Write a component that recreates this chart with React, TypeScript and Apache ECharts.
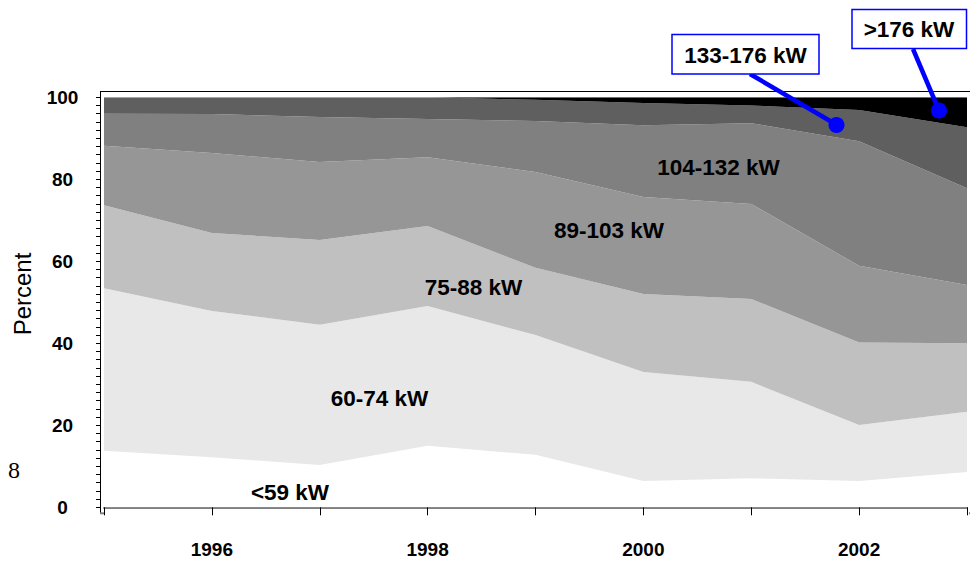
import React, { useEffect, useRef } from "react";
import * as echarts from "echarts";

const years = ["1995", "1996", "1997", "1998", "1999", "2000", "2001", "2002", "2003"];
const bandNames = ["<59 kW", "60-74 kW", "75-88 kW", "89-103 kW", "104-132 kW", "133-176 kW", ">176 kW"];
const bandColors = ["#ffffff", "#e8e8e8", "#c0c0c0", "#969696", "#808080", "#5f5f5f", "#000000"];

const under59 = [13.8, 12.2, 10.3, 15.0, 12.8, 6.4, 7.1, 6.4, 8.6];
const kw60to74 = [39.6, 35.7, 34.2, 34.1, 29.2, 26.6, 23.5, 13.7, 14.7];
const kw75to88 = [20.3, 19.0, 20.7, 19.5, 16.4, 19.0, 20.2, 20.1, 16.7];
const kw89to103 = [14.5, 19.5, 19.0, 16.8, 23.4, 23.7, 23.2, 18.7, 14.2];
const kw104to132 = [7.8, 9.5, 11.0, 9.3, 12.4, 17.5, 19.7, 30.4, 23.6];
const kw133to176 = [4.0, 4.1, 4.8, 5.3, 5.2, 5.4, 4.3, 7.6, 14.9];
const over176 = [0, 0, 0, 0, 0.6, 1.4, 2.0, 3.1, 7.3];

const yTicks = [0, 20, 40, 60, 80, 100];
const xLabelYears = ["1996", "1998", "2000", "2002"];

const bands = [under59, kw60to74, kw75to88, kw89to103, kw104to132, kw133to176, over176];

const FONT = "'Liberation Sans', Arial, Helvetica, sans-serif";

function txt(text: string, x: number, y: number, size: number, bold = true, family = FONT, rotation = 0) {
  return {
    type: "text",
    x,
    y,
    rotation,
    z: 100,
    style: {
      text,
      font: `${bold ? "bold " : ""}${size}px ${family}`,
      fill: "#000",
      align: "center",
      verticalAlign: "middle",
      textAlign: "center",
      textVerticalAlign: "middle",
    },
  };
}

export default function App() {
  const ref = useRef<HTMLDivElement>(null);
  useEffect(() => {
    if (!ref.current) return;
    const chart = echarts.init(ref.current, null, { renderer: "svg" });
    const series = bands.map((vals, i) => ({
      name: bandNames[i],
      type: "line",
      stack: "total",
      symbol: "none",
      showSymbol: false,
      lineStyle: { width: 0, color: bandColors[i] },
      itemStyle: { color: bandColors[i] },
      areaStyle: { color: bandColors[i], opacity: 1 },
      data: vals,
    }));
    const blue = "#0000ff";
    chart.setOption({
      animation: false,
      grid: { left: 104, right: 1, top: 97.3, bottom: 54.7 },
      xAxis: {
        type: "category",
        data: years,
        boundaryGap: false,
        offset: 6,
        axisLine: { show: true, lineStyle: { color: "#808080", width: 2 } },
        axisTick: { show: true, length: 8, interval: 0, lineStyle: { color: "#000", width: 1 } },
        splitLine: { show: false },
        axisLabel: {
          interval: 0,
          margin: 27,
          fontFamily: FONT,
          fontWeight: "bold",
          fontSize: 19,
          color: "#000",
          formatter: (v: string) => (xLabelYears.includes(v) ? v : ""),
        },
      },
      yAxis: {
        type: "value",
        min: yTicks[0],
        max: yTicks[yTicks.length - 1],
        interval: 20,
        offset: 4,
        axisLine: { show: true, lineStyle: { color: "#000", width: 1 } },
        axisTick: { show: true, length: 4, lineStyle: { color: "#000" } },
        minorTick: { show: true, splitNumber: 10, length: 4, lineStyle: { color: "#000" } },
        splitLine: { show: false },
        axisLabel: {
          margin: 37.5,
          align: "center",
          fontFamily: FONT,
          fontWeight: "bold",
          fontSize: 19,
          color: "#000",
        },
      },
      series,
      graphic: [
        { type: "line", z: 50, shape: { x1: 100, y1: 91.5, x2: 970, y2: 91.5 }, style: { stroke: "#000", lineWidth: 1 } },
        { type: "line", z: 50, shape: { x1: 100.5, y1: 91.5, x2: 100.5, y2: 98 }, style: { stroke: "#000", lineWidth: 1 } },
        { type: "line", z: 50, shape: { x1: 100.5, y1: 507, x2: 100.5, y2: 513 }, style: { stroke: "#000", lineWidth: 1 } },
        { type: "line", z: 50, shape: { x1: 100, y1: 513.3, x2: 104, y2: 513.3 }, style: { stroke: "#808080", lineWidth: 2 } },
        { type: "line", z: 50, shape: { x1: 969, y1: 513.3, x2: 970, y2: 513.3 }, style: { stroke: "#808080", lineWidth: 2 } },
        txt("Percent", 22, 294, 24, false, FONT, Math.PI / 2),
        txt("8", 14, 470, 24, false, "'Liberation Serif', 'Times New Roman', serif"),
        txt("104-132 kW", 718.5, 167, 22.5),
        txt("89-103 kW", 609, 230, 22.5),
        txt("75-88 kW", 473.5, 287, 22.5),
        txt("60-74 kW", 379.5, 398, 22.5),
        txt("<59 kW", 290, 492, 22.5),
        { type: "line", z: 60, shape: { x1: 750, y1: 74, x2: 837, y2: 125 }, style: { stroke: blue, lineWidth: 4.5 } },
        { type: "line", z: 60, shape: { x1: 913, y1: 49, x2: 939, y2: 110.5 }, style: { stroke: blue, lineWidth: 4.5 } },
        { type: "circle", z: 61, shape: { cx: 836.5, cy: 125, r: 8 }, style: { fill: blue } },
        { type: "circle", z: 61, shape: { cx: 939, cy: 110.5, r: 8 }, style: { fill: blue } },
        { type: "rect", z: 70, shape: { x: 672, y: 34.5, width: 147, height: 39.5 }, style: { fill: "#fff", stroke: blue, lineWidth: 1.5 } },
        { type: "rect", z: 70, shape: { x: 852, y: 9.5, width: 114.5, height: 39 }, style: { fill: "#fff", stroke: blue, lineWidth: 1.5 } },
        { ...txt("133-176 kW", 745.5, 55, 22.5), z: 80 },
        { ...txt(">176 kW", 909, 29, 22.5), z: 80 },
      ],
    });
    return () => chart.dispose();
  }, []);
  return (
    <div
      ref={ref}
      style={{ position: "absolute", left: 0, top: 0, width: 970, height: 562, background: "#fff" }}
    />
  );
}
